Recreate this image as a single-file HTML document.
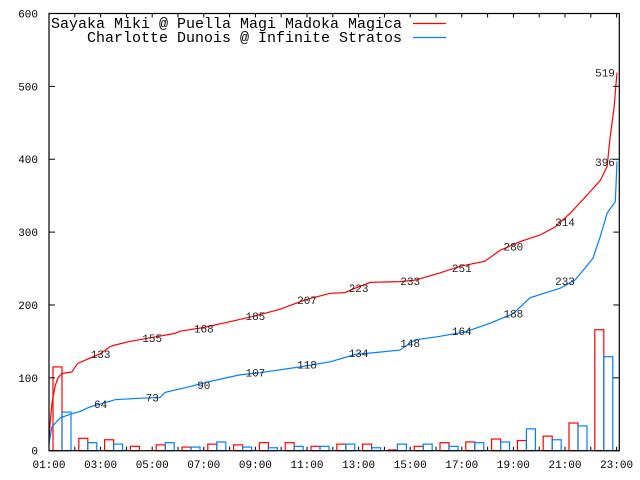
<!DOCTYPE html>
<html><head><meta charset="utf-8"><style>
html,body{margin:0;padding:0;background:#fff;}
svg{display:block;}
text{font-family:"Liberation Mono","DejaVu Sans Mono",monospace;}
</style></head><body>
<svg id="chart" width="640" height="480" xmlns="http://www.w3.org/2000/svg">
<g id="bars"></g>
<g id="lines"></g>
<g id="axes"></g>
<g id="labels"></g>
<g>
<text x="402" y="28" font-size="15" text-anchor="end" fill="#000">Sayaka Miki @ Puella Magi Madoka Magica</text>
<line x1="413" y1="23.5" x2="446" y2="23.5" stroke="#ff0000" stroke-width="1.2"/>
<text x="402" y="42" font-size="15" text-anchor="end" fill="#000">Charlotte Dunois @ Infinite Stratos</text>
<line x1="413" y1="37.5" x2="446" y2="37.5" stroke="#0080ff" stroke-width="1.2"/>
</g>
</svg>
<script>
const hourTickLabels=["01:00","03:00","05:00","07:00","09:00","11:00","13:00","15:00","17:00","19:00","21:00","23:00"];
const yTickValues=[0,100,200,300,400,500,600];
const redHourly=[115,17,15,6,8,5,9,8,11,11,6,9,9,1,6,11,12,16,14,20,38,166];
const blueHourly=[53,11,9,0,11,5,12,5,4,6,6,9,4,9,9,6,11,12,30,15,34,129];
const redMinutes=[0,2,7,14,21,30,53,67,95,119,142,154,188,235,293,305,358,421,479,537,595,654,688,712,747,816,851,909,956,1014,1049,1096,1142,1177,1212,1247,1282,1298,1305,1314,1321];
const redValues=[10,35,65,88,100,106,108,120,127,133,143,145,150,155,161,164,169,177,185,194,207,216,217,223,231,232,234,244,253,260,275,287,296,307,326,348,371,390,430,470,519];
const blueMinutes=[0,7,26,49,72,95,119,154,212,258,270,328,374,444,491,584,654,712,816,851,909,968,1026,1079,1119,1189,1223,1247,1265,1282,1298,1317,1319,1321];
const blueValues=[10,33,45,50,54,60,64,70,72,73,80,88,95,104,107,115,122,132,138,152,157,163,175,188,210,223,234,251,264,294,326,342,370,397];
const labelMinutes=[120,240,360,480,600,720,840,960,1080,1200];
const redLabels=[133,155,168,185,207,223,233,251,280,314];
const blueLabels=[64,73,90,107,118,134,148,164,188,233];
const redEnd=519, blueEnd=396;

const NS="http://www.w3.org/2000/svg";
const X0=49,X1=619.3,Y0=450.7,Y1=13.5,PXH=25.8;
function xs(m){return X0+m/60*PXH;}
function ys(v){return Y0-v*(Y0-Y1)/600;}
function mk(tag,attrs,parent){const e=document.createElementNS(NS,tag);for(const k in attrs)e.setAttribute(k,attrs[k]);parent.appendChild(e);return e;}
const bars=document.getElementById('bars'),lines=document.getElementById('lines'),axes=document.getElementById('axes'),labels=document.getElementById('labels');

redHourly.forEach((v,i)=>{
  const x=xs(i*60)+4;
  const r=mk('rect',{x:x,y:ys(v),width:9,height:Y0-ys(v),fill:'none',stroke:'#ff0000','stroke-width':1.2},bars);
  
  
});
blueHourly.forEach((v,i)=>{
  const x=xs(i*60)+13;
  const r=mk('rect',{x:x,y:ys(v),width:9,height:Y0-ys(v),fill:'none',stroke:'#0080ff','stroke-width':1.2},bars);
  
  
});

function path(ms,vs,color,name){
  let d='';
  ms.forEach((m,i)=>{d+=(i?'L':'M')+xs(m).toFixed(1)+' '+ys(vs[i]).toFixed(1);});
  const p=mk('path',{d:d,fill:'none',stroke:color,'stroke-width':1.2},lines);
  
  
}
path(redMinutes,redValues,'#ff0000','line-sayaka');
path(blueMinutes,blueValues,'#0080ff','line-charlotte');

const b=mk('rect',{x:X0,y:Y1,width:X1-X0,height:Y0-Y1,fill:'none',stroke:'#000','stroke-width':1.2},axes);


yTickValues.forEach(v=>{
  const y=ys(v);
  mk('line',{x1:X0,y1:y,x2:X0+6,y2:y,stroke:'#000'},axes);
  mk('line',{x1:X1,y1:y,x2:X1-6,y2:y,stroke:'#000'},axes);
  const t=mk('text',{x:38,y:y+4,'font-size':11,'text-anchor':'end',fill:'#000'},axes);
  t.textContent=v;
  
  
});
for(let h=0;h<=22;h++){
  const x=xs(h*60);
  mk('line',{x1:x,y1:Y0,x2:x,y2:Y0-4,stroke:'#000'},axes);
  mk('line',{x1:x,y1:Y1,x2:x,y2:Y1+4,stroke:'#000'},axes);
}
hourTickLabels.forEach((s,i)=>{
  const t=mk('text',{x:xs(i*120),y:468,'font-size':11,'text-anchor':'middle',fill:'#000'},axes);
  t.textContent=s;
  
  
});

function lab(x,v,name){
  const t=mk('text',{x:x,y:ys(v)+4,'font-size':11,'text-anchor':'middle',fill:'#222'},labels);
  t.textContent=v;
  
  
}
labelMinutes.forEach((m,i)=>{lab(xs(m),redLabels[i],'label-sayaka');lab(xs(m),blueLabels[i],'label-charlotte');});
lab(605,redEnd,'label-sayaka-end');
lab(605,blueEnd,'label-charlotte-end');
</script>
</body></html>
